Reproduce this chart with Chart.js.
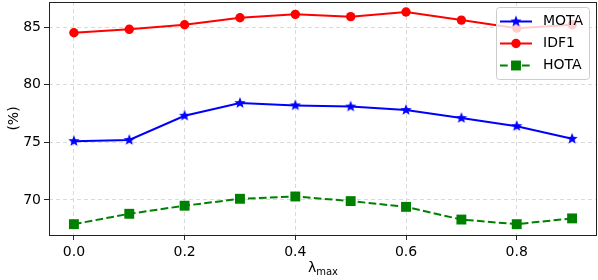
<!DOCTYPE html>
<html>
<head>
<meta charset="utf-8">
<script src="https://cdn.jsdelivr.net/npm/chart.js@4"></script>
<style>
  html, body { margin: 0; padding: 0; background: #fff; }
  #wrap { width: 598px; height: 280px; }
</style>
</head>
<body>
<div id="wrap"><canvas id="chart" width="598" height="280"></canvas></div>
<script>
// données
const lambdas = [0.0, 0.1, 0.2, 0.3, 0.4, 0.5, 0.6, 0.7, 0.8, 0.9];
const mota = [75.1, 75.2, 77.3, 78.4, 78.2, 78.1, 77.8, 77.1, 76.4, 75.3];
const idf1 = [84.5, 84.8, 85.2, 85.8, 86.1, 85.9, 86.3, 85.6, 84.9, 85.2];
const hota = [67.9, 68.8, 69.5, 70.1, 70.3, 69.9, 69.4, 68.3, 67.9, 68.4];
const xTicks = [0.0, 0.2, 0.4, 0.6, 0.8];
const yTicks = [70, 75, 80, 85];

const FONT = "'DejaVu Sans', sans-serif";

// étoile pleine (le 'star' de Chart.js n'est pas rempli)
function makeStar(color) {
    const c = document.createElement('canvas');
    c.width = 14; c.height = 14;
    const g = c.getContext('2d');
    g.beginPath();
    for (let i = 0; i < 10; i++) {
        const r = i % 2 === 0 ? 6 : 2.6;
        const a = -Math.PI / 2 + i * Math.PI / 5;
        const px = 7 + r * Math.cos(a), py = 7 + r * Math.sin(a);
        if (i === 0) g.moveTo(px, py); else g.lineTo(px, py);
    }
    g.closePath();
    g.fillStyle = color;
    g.fill();
    return c;
}
const star = makeStar('#0000ff');

function pts(values) {
    return values.map((v, i) => ({ x: lambdas[i], y: v }));
}

function noPad(s) {
    s.paddingLeft = 0; s.paddingRight = 0;
    s.paddingTop = 0; s.paddingBottom = 0;
}

// cadre, titres des axes et légende façon matplotlib
const decorPlugin = {
    id: 'decor',
    afterDatasetsDraw(chart) {
        const ctx = chart.ctx;
        const a = chart.chartArea;
        ctx.save();
        ctx.strokeStyle = '#222';
        ctx.lineWidth = 1;
        ctx.strokeRect(Math.round(a.left) + 0.5, Math.round(a.top) + 0.5,
            Math.round(a.right - a.left) - 1, Math.round(a.bottom - a.top));

        // titre Y
        ctx.fillStyle = '#000';
        ctx.font = '14px ' + FONT;
        ctx.textAlign = 'center';
        ctx.textBaseline = 'middle';
        ctx.save();
        ctx.translate(14, (a.top + a.bottom) / 2);
        ctx.rotate(-Math.PI / 2);
        ctx.fillText('(%)', 0, 0);
        ctx.restore();

        // titre X avec indice
        const cx = (a.left + a.right) / 2;
        ctx.textAlign = 'left';
        ctx.textBaseline = 'alphabetic';
        ctx.font = '14px ' + FONT;
        const wl = ctx.measureText('λ').width;
        ctx.font = '10px ' + FONT;
        const wm = ctx.measureText('max').width;
        const x0 = cx - (wl + wm) / 2;
        ctx.font = '14px ' + FONT;
        ctx.fillText('λ', x0, 272);
        ctx.font = '10px ' + FONT;
        ctx.fillText('max', x0 + wl, 275);

        // légende
        const lx = 496, ly = 7, lw = 93, lh = 72;
        ctx.beginPath();
        ctx.roundRect(lx + 0.5, ly + 0.5, lw, lh, 3);
        ctx.fillStyle = 'rgba(255,255,255,0.8)';
        ctx.fill();
        ctx.strokeStyle = '#cccccc';
        ctx.stroke();

        const rows = [21, 43, 65];
        chart.data.datasets.forEach((ds, i) => {
            const y = ly + rows[i] - 7 + 0.5;
            ctx.beginPath();
            ctx.setLineDash(ds.borderDash || []);
            ctx.strokeStyle = ds.borderColor;
            ctx.lineWidth = 2;
            ctx.moveTo(500, y);
            ctx.lineTo(532, y);
            ctx.stroke();
            ctx.setLineDash([]);
            if (ds.pointStyle === 'circle') {
                ctx.beginPath();
                ctx.arc(516, y, ds.pointRadius, 0, Math.PI * 2);
                ctx.fillStyle = ds.borderColor;
                ctx.fill();
            } else if (ds.pointStyle === 'rect') {
                const s = ds.pointRadius * Math.SQRT2;
                ctx.fillStyle = ds.borderColor;
                ctx.fillRect(516 - s / 2, y - s / 2, s, s);
            } else {
                ctx.drawImage(ds.pointStyle, 516 - 7, y - 7);
            }
            ctx.fillStyle = '#000';
            ctx.font = '14px ' + FONT;
            ctx.textBaseline = 'middle';
            ctx.fillText(ds.label, 543, y);
        });
        ctx.restore();
    }
};

new Chart(document.getElementById('chart').getContext('2d'), {
    type: 'line',
    data: {
        datasets: [{
            label: 'MOTA',
            data: pts(mota),
            borderColor: '#0000ff',
            backgroundColor: '#0000ff',
            borderWidth: 2,
            pointStyle: star,
            pointRadius: 6
        }, {
            label: 'IDF1',
            data: pts(idf1),
            borderColor: '#ff0000',
            backgroundColor: '#ff0000',
            borderWidth: 2,
            pointStyle: 'circle',
            pointRadius: 4.7,
            pointBorderWidth: 0
        }, {
            label: 'HOTA',
            data: pts(hota),
            borderColor: '#008000',
            backgroundColor: '#008000',
            borderWidth: 2,
            borderDash: [7.7, 3.3],
            pointStyle: 'rect',
            pointRadius: 7,
            pointBorderWidth: 0
        }]
    },
    options: {
        responsive: false,
        animation: false,
        layout: { autoPadding: false, padding: { top: 2, right: 1, left: 0, bottom: 0 } },
        plugins: { legend: { display: false }, tooltip: { enabled: false } },
        scales: {
            x: {
                type: 'linear',
                min: -0.045,
                max: 0.945,
                afterBuildTicks: s => { s.ticks = xTicks.map(v => ({ value: v })); },
                afterFit: s => { s.height = 45; noPad(s); },
                ticks: {
                    color: '#000',
                    font: { family: FONT, size: 14 },
                    padding: 4,
                    maxRotation: 0,
                    callback: v => v.toFixed(1)
                },
                grid: { color: '#dadada', lineWidth: 1, tickLength: 5, tickColor: '#222', tickBorderDash: [] },
                border: { display: false, dash: [4, 3] }
            },
            y: {
                min: 66.96,
                max: 87.17,
                afterBuildTicks: s => { s.ticks = yTicks.map(v => ({ value: v })); },
                afterFit: s => { s.width = 49; noPad(s); },
                ticks: {
                    color: '#000',
                    font: { family: FONT, size: 14 },
                    padding: 3
                },
                grid: { color: '#dadada', lineWidth: 1, tickLength: 5, tickColor: '#222', tickBorderDash: [] },
                border: { display: false, dash: [4, 3] }
            }
        }
    },
    plugins: [decorPlugin]
});
</script>
</body>
</html>
